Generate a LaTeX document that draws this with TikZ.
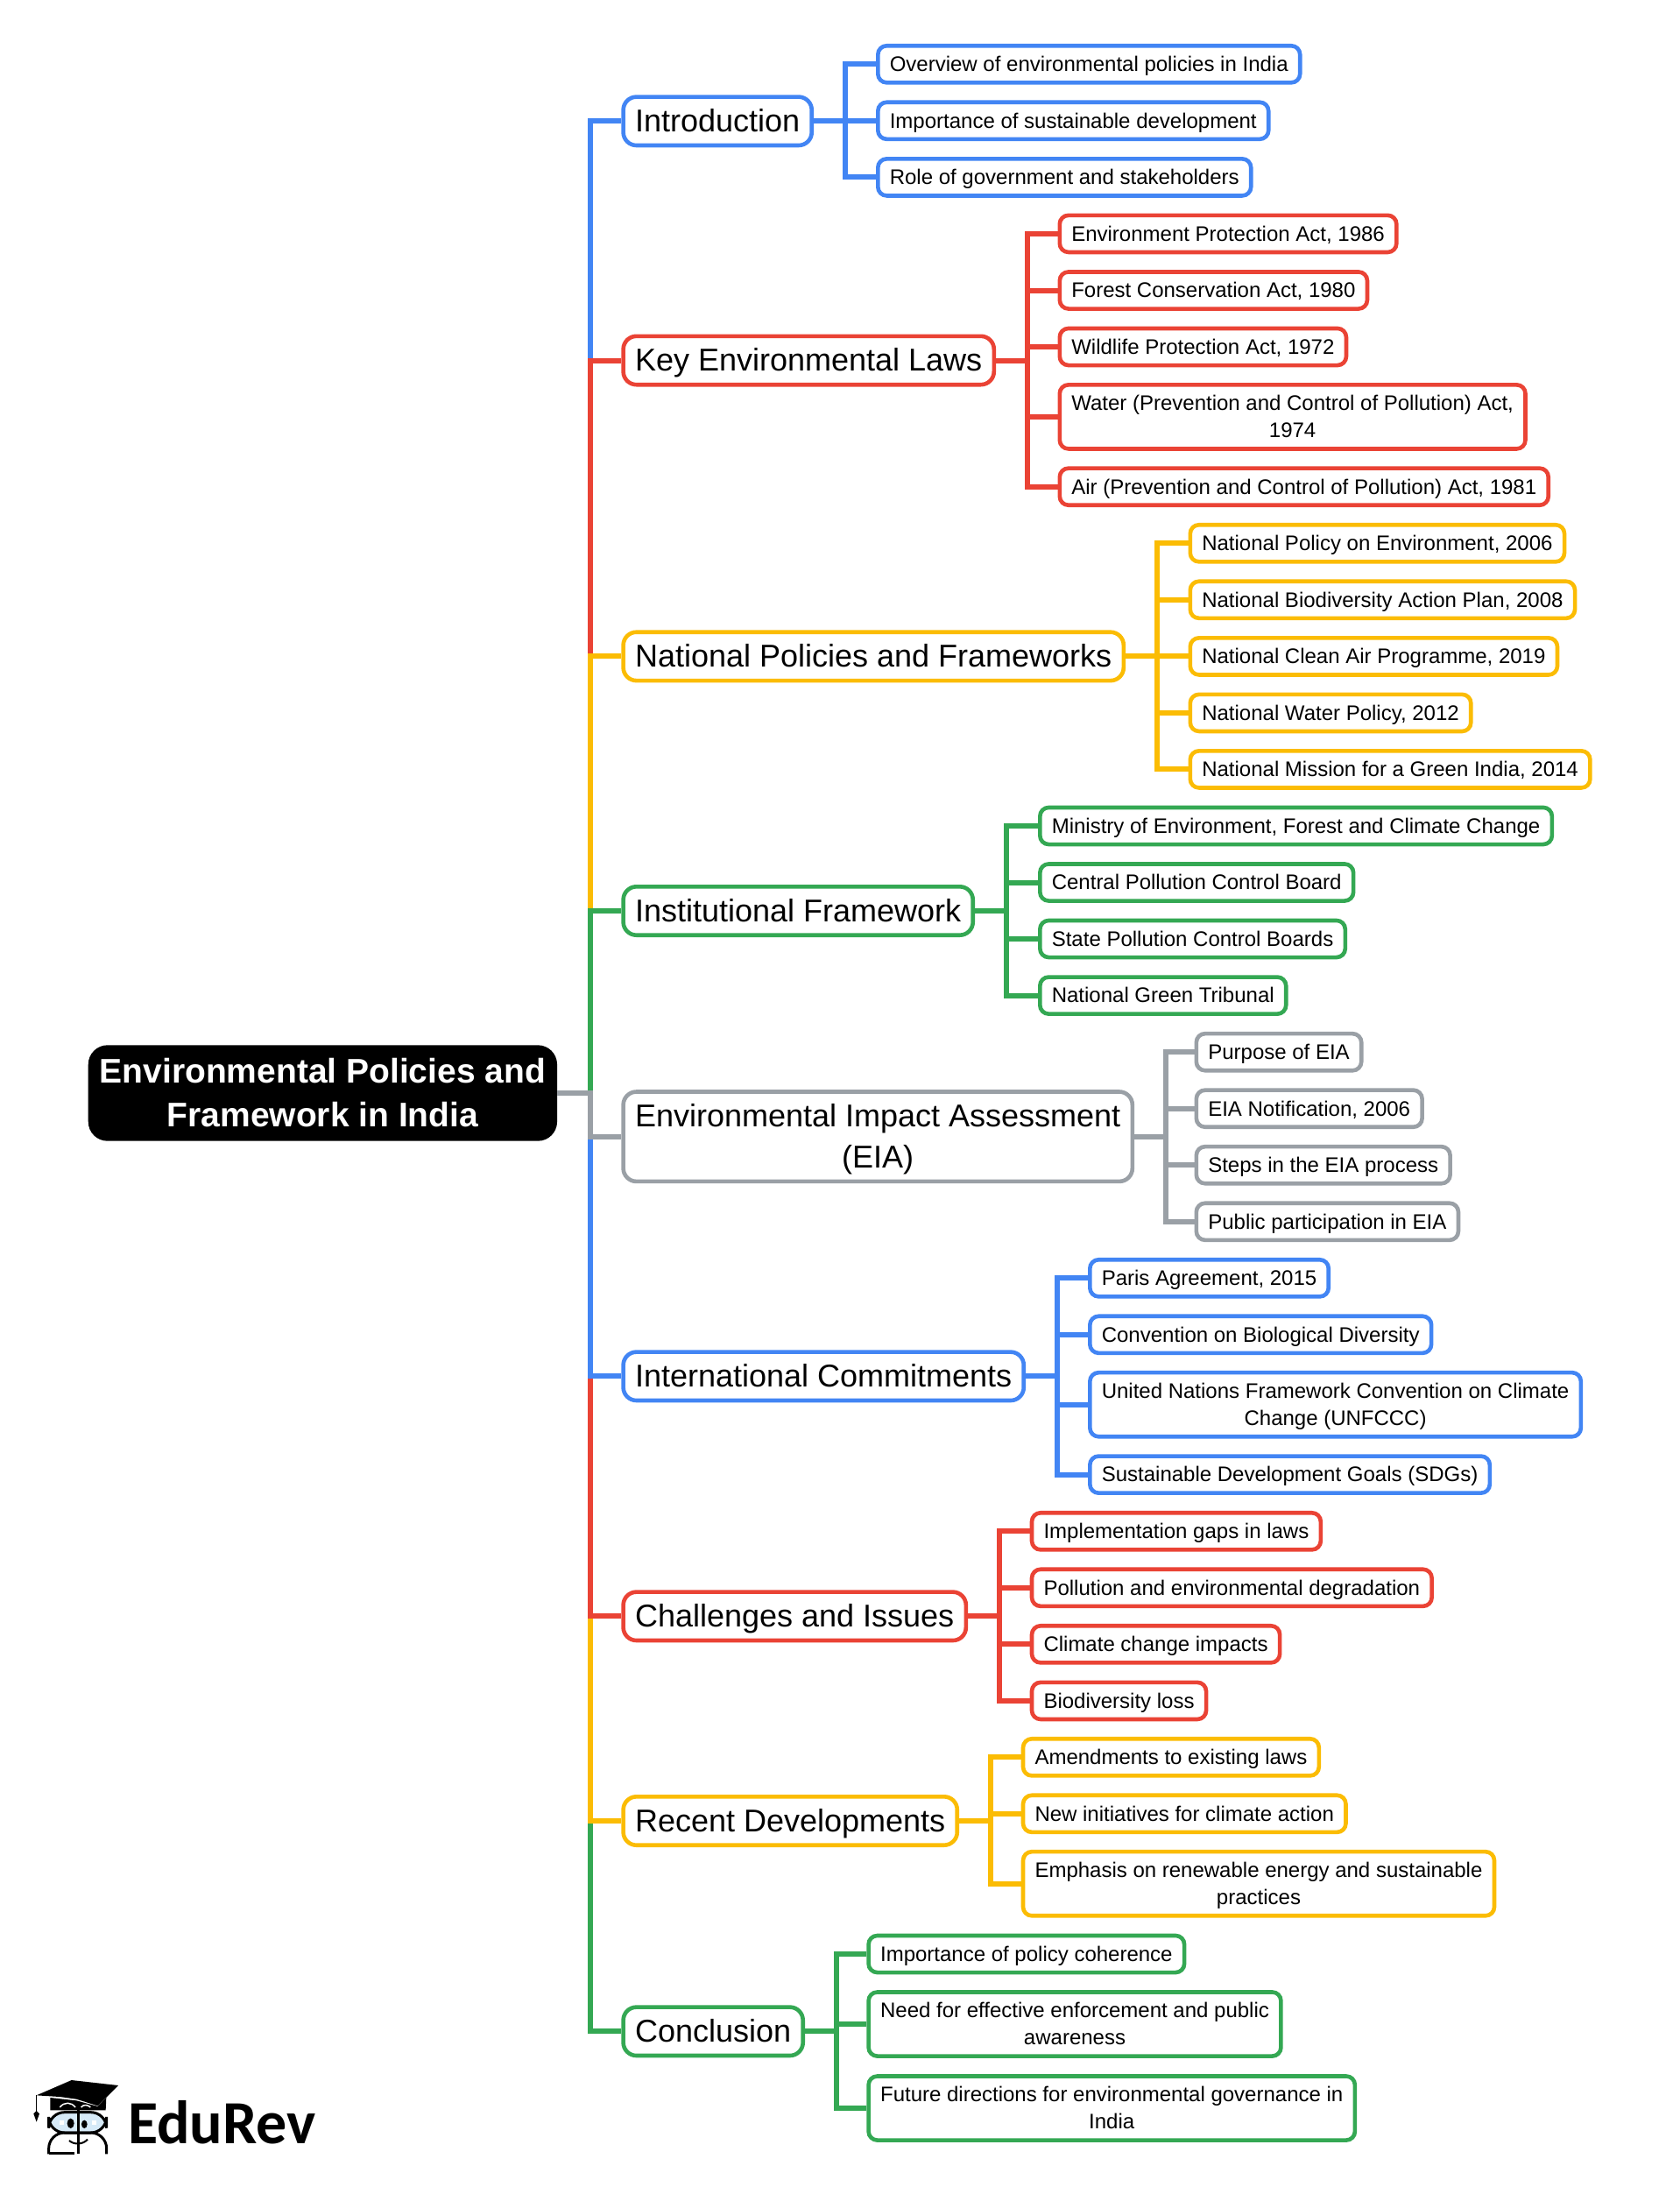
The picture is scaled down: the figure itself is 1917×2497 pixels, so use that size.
\documentclass[tikz,border=0pt]{standalone}
\usepackage{xcolor}
\usepackage{fontspec}
\setmainfont{Liberation Sans}
\newfontfamily\brandfont{Carlito}
\definecolor{mmblue}{HTML}{4285F4}
\definecolor{mmred}{HTML}{EA4335}
\definecolor{mmyellow}{HTML}{FBBC04}
\definecolor{mmgreen}{HTML}{34A853}
\definecolor{mmgrey}{HTML}{9AA0A6}
\definecolor{glass}{HTML}{D6EAF8}
\newcommand{\rootstrut}{\rule{0pt}{34.5pt}}
\newcommand{\topicstrut}{\rule{0pt}{32.5pt}}
\newcommand{\kidstrut}{\rule{0pt}{21.8pt}}
\tikzset{
  conn/.style={draw=#1, line width=6pt},
  rootbox/.style={fill=black, text=white, rounded corners=22pt, align=center, inner xsep=13pt, inner ysep=8.2pt,
    text depth=8.5pt,
    font=\fontsize{39}{50}\selectfont\bfseries},
  topic/.style={draw=#1, fill=white, line width=4.6pt, rounded corners=15pt, anchor=west, align=center,
    inner xsep=13.5pt, inner ysep=7.6pt, execute at begin node=\topicstrut, text depth=7.7pt,
    font=\fontsize{36}{47}\selectfont},
  kid/.style={draw=#1, fill=white, line width=4.6pt, rounded corners=10pt, anchor=west, align=center,
    inner xsep=13.5pt, inner ysep=7.55pt, execute at begin node=\kidstrut, text depth=5.2pt,
    font=\fontsize{24}{31}\selectfont},
}
\begin{document}
\begin{tikzpicture}[x=1pt,y=-1pt]
\useasboundingbox (0,0) rectangle (1917,2497);
\node[rootbox, minimum width=534pt] (root) at (368.4,1248) {\rootstrut Environmental Policies and\\Framework in India};
\coordinate (bus) at (673.8,1248);

\node[topic=mmblue] (intro) at (709.3,138.3) {Introduction};
\node[topic=mmred] (laws) at (709.3,411.5) {Key Environmental Laws};
\node[topic=mmyellow] (policy) at (709.3,749.4) {National Policies and Frameworks};
\node[topic=mmgreen] (inst) at (709.3,1040) {Institutional Framework};
\node[topic=mmgrey] (eia) at (709.3,1297.7) {\topicstrut Environmental Impact Assessment\\(EIA)};
\node[topic=mmblue] (intl) at (709.3,1571.3) {International Commitments};
\node[topic=mmred] (issues) at (709.3,1845.3) {Challenges and Issues};
\node[topic=mmyellow] (recent) at (709.3,2079) {Recent Developments};
\node[topic=mmgreen] (concl) at (709.3,2319.3) {Conclusion};

\foreach \k/\ypos/\txt in {1/73.3/{Overview of environmental policies in India},
    2/137.8/{Importance of sustainable development},
    3/202.4/{Role of government and stakeholders}}
  \node[kid=mmblue] (intro\k) at (1000,\ypos) {\txt};
\foreach \k/\ypos/\txt in {1/266.9/{Environment Protection Act, 1986},
    2/331.5/{Forest Conservation Act, 1980},
    3/396/{Wildlife Protection Act, 1972},
    4/475.9/{\kidstrut Water (Prevention and Control of Pollution) Act,\\1974},
    5/555.7/{Air (Prevention and Control of Pollution) Act, 1981}}
  \node[kid=mmred] (laws\k) at (1207.5,\ypos) {\txt};
\foreach \k/\ypos/\txt in {1/620.3/{National Policy on Environment, 2006},
    2/684.8/{National Biodiversity Action Plan, 2008},
    3/749.4/{National Clean Air Programme, 2019},
    4/813.9/{National Water Policy, 2012},
    5/878.4/{National Mission for a Green India, 2014}}
  \node[kid=mmyellow] (policy\k) at (1356.5,\ypos) {\txt};
\foreach \k/\ypos/\txt in {1/943/{Ministry of Environment, Forest and Climate Change},
    2/1007.5/{Central Pollution Control Board},
    3/1072/{State Pollution Control Boards},
    4/1136.6/{National Green Tribunal}}
  \node[kid=mmgreen] (inst\k) at (1185,\ypos) {\txt};
\foreach \k/\ypos/\txt in {1/1201.2/{Purpose of EIA},
    2/1265.7/{EIA Notification, 2006},
    3/1330.2/{Steps in the EIA process},
    4/1394.8/{Public participation in EIA}}
  \node[kid=mmgrey] (eia\k) at (1363.5,\ypos) {\txt};
\foreach \k/\ypos/\txt in {1/1459.3/{Paris Agreement, 2015},
    2/1523.8/{Convention on Biological Diversity},
    3/1603.7/{\kidstrut United Nations Framework Convention on Climate\\Change (UNFCCC)},
    4/1683.6/{Sustainable Development Goals (SDGs)}}
  \node[kid=mmblue] (intl\k) at (1242,\ypos) {\txt};
\foreach \k/\ypos/\txt in {1/1748.3/{Implementation gaps in laws},
    2/1812.8/{Pollution and environmental degradation},
    3/1877.3/{Climate change impacts},
    4/1941.9/{Biodiversity loss}}
  \node[kid=mmred] (issues\k) at (1175.7,\ypos) {\txt};
\foreach \k/\ypos/\txt in {1/2006.3/{Amendments to existing laws},
    2/2070.8/{New initiatives for climate action},
    3/2150.7/{\kidstrut Emphasis on renewable energy and sustainable\\practices}}
  \node[kid=mmyellow] (recent\k) at (1165.7,\ypos) {\txt};
\foreach \k/\ypos/\txt in {1/2231/{Importance of policy coherence},
    2/2311/{\kidstrut Need for effective enforcement and public\\awareness},
    3/2407/{\kidstrut Future directions for environmental governance in\\India}}
  \node[kid=mmgreen] (concl\k) at (989.3,\ypos) {\txt};

% root to topics, order decides which colour stays on the bus
\foreach \topic/\col in {intro/mmblue,laws/mmred,policy/mmyellow,inst/mmgreen,concl/mmgreen,recent/mmyellow,issues/mmred,intl/mmblue,eia/mmgrey}
  \draw[conn=\col] (root.east) -- (bus) |- (\topic.west);

% topics to kids
\foreach \topic/\col/\last in {intro/mmblue/3,laws/mmred/5,policy/mmyellow/5,inst/mmgreen/4,eia/mmgrey/4,intl/mmblue/4,issues/mmred/4,recent/mmyellow/3,concl/mmgreen/3}
  \foreach \k in {1,...,\last}
    \draw[conn=\col] (\topic.east) -- ++(36,0) |- (\topic\k.west);

% logo
\begin{scope}[shift={(0,2300)},x=0.3333pt,y=-0.3333pt]
\fill (125,277) -- (245,225) -- (405,243) -- (335,313) -- (262,290) -- (205,282) -- cycle;
\fill (172,285) -- (172,328) -- (362,328) -- (364,285) -- (335,315) -- (262,295) -- cycle;
\draw[white, line width=1.5pt] (205,318) .. controls (220,298) and (245,300) .. (258,318);
\draw[white, line width=1.5pt] (278,318) .. controls (285,308) and (300,308) .. (310,318);
\draw[line width=1.5pt] (125,277) -- (125,335);
\fill (115,340) -- (125,330) -- (135,340) -- (125,368) -- cycle;
\draw[fill=glass, line width=3pt, rounded corners=18] (167,335) rectangle (365,405);
\draw[line width=3pt, rounded corners=18] (167,478) -- (167,405) -- (365,405) -- (365,478);
\draw[line width=3pt] (167,476) -- (255,476);
\draw[line width=3.5pt] (268,328) -- (268,478);
\fill (242,373) ellipse[x radius=12, y radius=17];
\fill (289,376) ellipse[x radius=10, y radius=14];
\fill[white] (205,363) rectangle (220,378);
\fill[white] (315,363) rectangle (330,378);
\draw[line width=2pt] (237,432) .. controls (255,448) and (285,445) .. (300,428);
\end{scope}
\node[anchor=base west, inner sep=0pt, font=\fontsize{70}{70}\selectfont\brandfont\bfseries] (brand) at (146,2447) {EduRev};
\end{tikzpicture}
\end{document}
